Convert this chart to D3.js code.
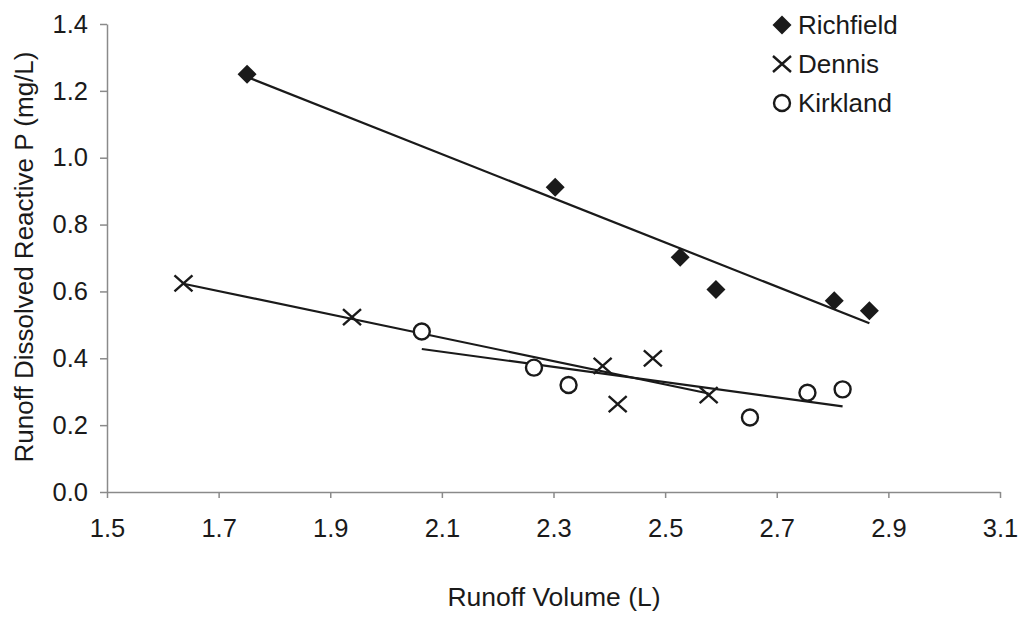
<!DOCTYPE html>
<html>
<head>
<meta charset="utf-8">
<script src="https://cdn.jsdelivr.net/npm/d3@7"></script>
<style>
  html, body { margin: 0; padding: 0; background: #fff; }
  svg { display: block; font-family: "Liberation Sans", Arial, sans-serif; }
</style>
</head>
<body>
<svg id="chart" width="1029" height="617"></svg>
<script>
// Runoff volume (L) and dissolved reactive P (mg/L) per site
const richfieldX = [1.751, 2.303, 2.527, 2.591, 2.803, 2.866];
const richfieldY = [1.250, 0.912, 0.702, 0.606, 0.572, 0.542];
const dennisX    = [1.637, 1.939, 2.388, 2.415, 2.478, 2.578];
const dennisY    = [0.624, 0.523, 0.377, 0.263, 0.400, 0.290];
const kirklandX  = [2.064, 2.265, 2.327, 2.652, 2.755, 2.818];
const kirklandY  = [0.480, 0.372, 0.320, 0.223, 0.297, 0.307];

const seriesNames = ["Richfield", "Dennis", "Kirkland"];
const xTicks = [1.5, 1.7, 1.9, 2.1, 2.3, 2.5, 2.7, 2.9, 3.1];
const yTicks = [0.0, 0.2, 0.4, 0.6, 0.8, 1.0, 1.2, 1.4];

const series = [
  { name: seriesNames[0], xs: richfieldX, ys: richfieldY, marker: "diamond" },
  { name: seriesNames[1], xs: dennisX,    ys: dennisY,    marker: "cross" },
  { name: seriesNames[2], xs: kirklandX,  ys: kirklandY,  marker: "circle" }
];

const svg = d3.select("#chart");
const x = d3.scaleLinear().domain([1.5, 3.1]).range([107, 1000]);
const y = d3.scaleLinear().domain([0, 1.4]).range([492, 24]);
const ink = "#1a1a1a";
const axisColor = "#8a8a8a";

// Axes
const gx = svg.append("g").attr("transform", `translate(0,${y(0)})`)
  .call(d3.axisBottom(x).tickValues(xTicks).tickFormat(d3.format(".1f"))
        .tickSize(6).tickSizeOuter(0).tickPadding(21));
const gy = svg.append("g").attr("transform", `translate(${x(1.5)},0)`)
  .call(d3.axisLeft(y).tickValues(yTicks).tickFormat(d3.format(".1f"))
        .tickSize(7).tickSizeOuter(0).tickPadding(12));
[gx, gy].forEach(g => {
  g.select(".domain").attr("stroke", axisColor).attr("stroke-width", 1.5);
  g.selectAll(".tick line").attr("stroke", axisColor).attr("stroke-width", 1.5);
  g.selectAll(".tick text").attr("fill", ink).attr("font-size", 25.5)
    .attr("font-family", "Liberation Sans, Arial, sans-serif");
});

// Axis titles
svg.append("text")
  .attr("x", 554).attr("y", 606)
  .attr("text-anchor", "middle").attr("font-size", 26.5).attr("fill", ink)
  .text("Runoff Volume (L)");
svg.append("text")
  .attr("transform", "translate(33,257) rotate(-90)")
  .attr("text-anchor", "middle").attr("font-size", 26).attr("fill", ink)
  .text("Runoff Dissolved Reactive P (mg/L)");

// Least-squares trend line for each site, spanning its observed volumes
function fit(xs, ys) {
  const mx = d3.mean(xs), my = d3.mean(ys);
  let sxy = 0, sxx = 0;
  xs.forEach((v, i) => { sxy += (v - mx) * (ys[i] - my); sxx += (v - mx) ** 2; });
  const b = sxy / sxx, a = my - b * mx;
  const x0 = d3.min(xs), x1 = d3.max(xs);
  return [[x0, a + b * x0], [x1, a + b * x1]];
}
const line = d3.line().x(d => x(d[0])).y(d => y(d[1]));
series.forEach(s => {
  svg.append("path").attr("d", line(fit(s.xs, s.ys)))
    .attr("fill", "none").attr("stroke", ink).attr("stroke-width", 2.2);
});

// Marker drawing
function drawMarker(g, type, cx, cy) {
  if (type === "diamond") {
    const r = 9.5;
    g.append("path")
      .attr("d", `M${cx},${cy - r}L${cx + r},${cy}L${cx},${cy + r}L${cx - r},${cy}Z`)
      .attr("fill", ink);
  } else if (type === "cross") {
    const w = 9, h = 8;
    g.append("path")
      .attr("d", `M${cx - w},${cy - h}L${cx + w},${cy + h}M${cx - w},${cy + h}L${cx + w},${cy - h}`)
      .attr("stroke", ink).attr("stroke-width", 2.4).attr("fill", "none");
  } else {
    g.append("circle").attr("cx", cx).attr("cy", cy).attr("r", 8)
      .attr("fill", "#fff").attr("stroke", ink).attr("stroke-width", 2.4);
  }
}

const pts = svg.append("g");
series.forEach(s => {
  s.xs.forEach((v, i) => drawMarker(pts, s.marker, x(v), y(s.ys[i])));
});

// Legend
const legend = svg.append("g");
series.forEach((s, i) => {
  const ly = 25 + i * 39;
  drawMarker(legend, s.marker, 782, ly);
  legend.append("text").attr("x", 798).attr("y", ly + 9)
    .attr("font-size", 26).attr("fill", ink).text(s.name);
});
</script>
</body>
</html>
